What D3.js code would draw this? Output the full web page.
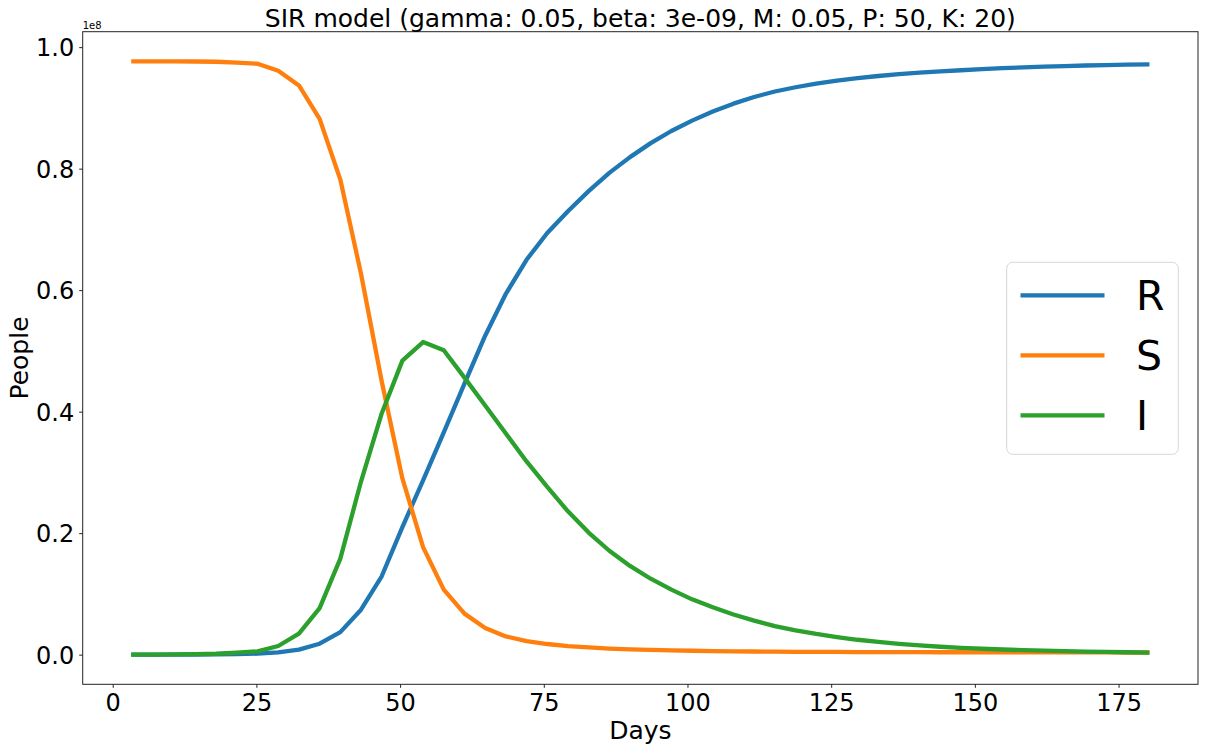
<!DOCTYPE html>
<html>
<head>
<meta charset="utf-8">
<script src="https://cdn.jsdelivr.net/npm/d3@7"></script>
<style>
  html, body { margin: 0; padding: 0; background: #fff; }
  svg { display: block; font-family: "DejaVu Sans", sans-serif; }
</style>
</head>
<body>
<svg id="chart" width="1205" height="750"></svg>
<script>
// ---- data (people in units of 1e8) ----
const days = [3.6,7.2,10.8,14.4,18,21.6,25.2,28.8,32.4,36,39.6,43.2,46.8,50.4,54,57.6,61.2,64.8,68.4,72,
  75.6,79.2,82.8,86.4,90,93.6,97.2,100.8,104.4,108,111.6,115.2,118.8,122.4,126,129.6,133.2,136.8,140.4,144,
  147.6,151.2,154.8,158.4,162,165.6,169.2,172.8,176.4,180];
const R = [0.00001,0.00003,0.0001,0.0002,0.0004,0.0008,0.0016,0.0038,0.0082,0.018,0.037,0.074,0.129,0.210,0.287,0.366,0.446,0.525,0.594,0.650,
  0.694,0.730,0.763,0.793,0.819,0.842,0.862,0.879,0.894,0.907,0.918,0.927,0.934,0.940,0.945,0.949,0.9525,0.9555,0.958,0.960,
  0.962,0.9638,0.9654,0.9667,0.9679,0.9689,0.9698,0.9705,0.9711,0.9716];
const S = [0.9766,0.9766,0.9765,0.9764,0.9760,0.9745,0.9727,0.961,0.937,0.882,0.782,0.627,0.450,0.290,0.177,0.107,0.0675,0.044,0.030,0.0224,
  0.0175,0.014,0.0118,0.010,0.0088,0.0078,0.0070,0.0064,0.0059,0.0055,0.0052,0.0049,0.0047,0.0045,0.0044,0.0043,0.0042,0.0041,0.0040,0.0039,
  0.0039,0.0038,0.0038,0.0037,0.0037,0.0036,0.0036,0.0036,0.0035,0.0035];
const I = [0.00003,0.0001,0.0003,0.0008,0.0015,0.0033,0.0055,0.0142,0.0346,0.0765,0.158,0.285,0.397,0.484,0.5146,0.501,0.456,0.410,0.364,0.318,
  0.276,0.236,0.201,0.171,0.146,0.125,0.107,0.091,0.078,0.066,0.056,0.047,0.040,0.034,0.029,0.0245,0.021,0.0178,0.0152,0.013,
  0.0112,0.0097,0.0085,0.0074,0.0065,0.0057,0.005,0.0044,0.0039,0.0034];
const seriesNames = ["R","S","I"];
const seriesColors = ["#1f77b4","#ff7f0e","#2ca02c"];
const xTicks = [0,25,50,75,100,125,150,175];
const yTicks = [0.0,0.2,0.4,0.6,0.8,1.0];
const titleText = "SIR model (gamma: 0.05, beta: 3e-09, M: 0.05, P: 50, K: 20)";

// ---- layout ----
const L = 82.7, Rt = 1198, T = 31.7, B = 684.3;
const svg = d3.select("#chart");
const series = [R, S, I];

const xmin = d3.min(days), xmax = d3.max(days), xpad = (xmax - xmin) * 0.05;
const all = series.flat();
const ymin = d3.min(all), ymax = d3.max(all), ypad = (ymax - ymin) * 0.05;
const x = d3.scaleLinear().domain([xmin - xpad, xmax + xpad]).range([L, Rt]);
const y = d3.scaleLinear().domain([ymin - ypad, ymax + ypad]).range([B, T]);

// lines
const line = d3.line().x((d, i) => x(days[i])).y(d => y(d));
const plot = svg.append("g");
series.forEach((s, k) => {
  plot.append("path").datum(s)
    .attr("d", line)
    .attr("fill", "none")
    .attr("stroke", seriesColors[k])
    .attr("stroke-width", 4.3)
    .attr("stroke-linecap", "square")
    .attr("stroke-linejoin", "round");
});

// axes
const xAxis = d3.axisBottom(x).tickValues(xTicks).tickFormat(d3.format("d")).tickSize(3.5).tickPadding(4);
const yAxis = d3.axisLeft(y).tickValues(yTicks).tickFormat(d3.format(".1f")).tickSize(3.5).tickPadding(5);
const gx = svg.append("g").attr("transform", `translate(0,${B})`).call(xAxis);
const gy = svg.append("g").attr("transform", `translate(${L},0)`).call(yAxis);
[gx, gy].forEach(g => {
  g.select(".domain").remove();
  g.selectAll(".tick line").attr("stroke", "#222").attr("stroke-width", 1);
  g.selectAll(".tick text").attr("fill", "#000").style("font-size", "24px").style("font-family", "DejaVu Sans");
});
gx.selectAll(".tick text").attr("dy", "0.8em");
gy.selectAll(".tick text").attr("dy", "0.36em");

// spines
svg.append("rect").attr("x", L).attr("y", T).attr("width", Rt - L).attr("height", B - T)
  .attr("fill", "none").attr("stroke", "#222").attr("stroke-width", 1);

// offset text
svg.append("text").attr("x", L).attr("y", 28.5).text("1e8")
  .style("font-size", "10px").attr("fill", "#000");

// title
svg.append("text").attr("x", (L + Rt) / 2).attr("y", 26.5).attr("text-anchor", "middle")
  .style("font-size", "25px").attr("fill", "#000").text(titleText);

// axis labels
svg.append("text").attr("x", (L + Rt) / 2).attr("y", 739).attr("text-anchor", "middle")
  .style("font-size", "25px").attr("fill", "#000").text("Days");
svg.append("text").attr("transform", `translate(28,${(T + B) / 2}) rotate(-90)`).attr("text-anchor", "middle")
  .style("font-size", "25px").attr("fill", "#000").text("People");

// legend
const lg = svg.append("g");
lg.append("rect").attr("x", 1006.7).attr("y", 262.3).attr("width", 171.6).attr("height", 192)
  .attr("rx", 6).attr("ry", 6).attr("fill", "#fff").attr("fill-opacity", 0.8)
  .attr("stroke", "#d6d6d6").attr("stroke-width", 1);
seriesNames.forEach((n, k) => {
  const ly = 295.3 + k * 60;
  lg.append("line").attr("x1", 1020.5).attr("x2", 1104.5).attr("y1", ly).attr("y2", ly)
    .attr("stroke", seriesColors[k]).attr("stroke-width", 4.3);
  lg.append("text").attr("x", 1136).attr("y", ly + 14.8).style("font-size", "41px")
    .attr("fill", "#000").text(n);
});
</script>
</body>
</html>
